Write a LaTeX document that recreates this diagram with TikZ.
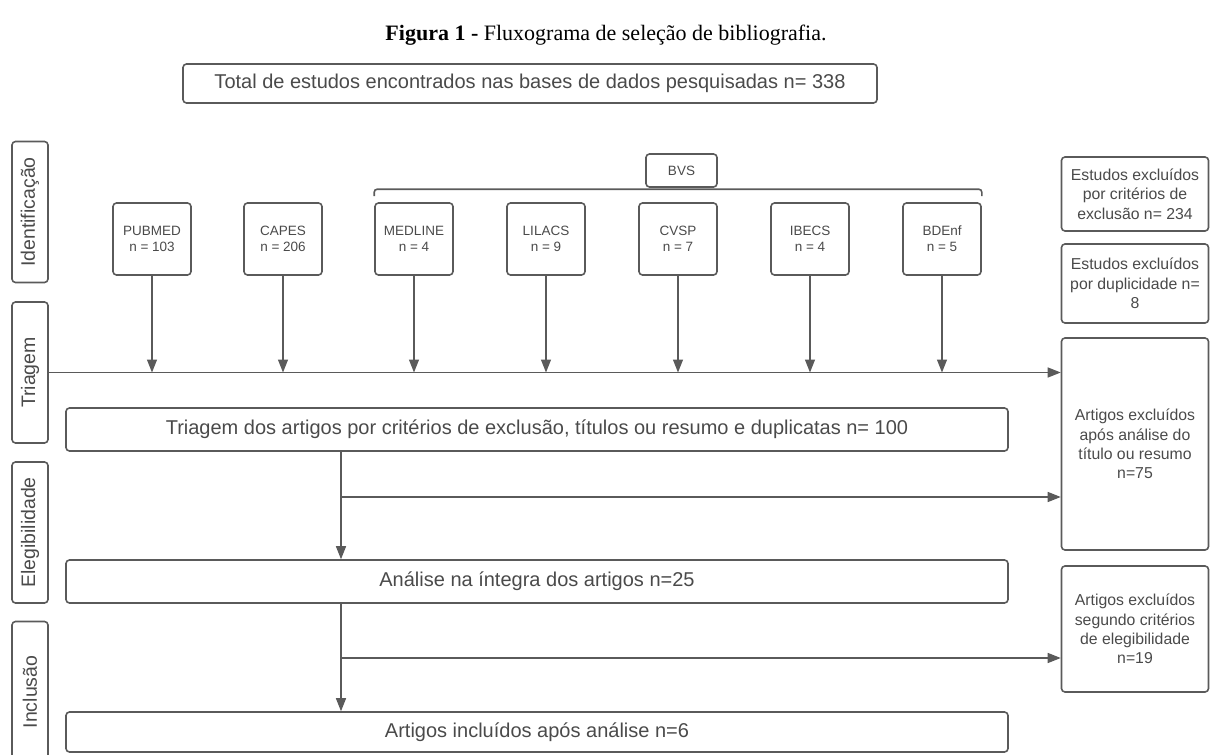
\documentclass[tikz,border=0pt]{standalone}
\usepackage{fontspec}
\setmainfont{Liberation Serif}
\newfontfamily\boxfont{Liberation Sans}
\usetikzlibrary{arrows.meta}
\definecolor{linegray}{HTML}{5A5A5A}
\definecolor{txtgray}{HTML}{4A4A4A}
\tikzset{
  stage/.style={draw=linegray, line width=1.6pt, rounded corners=3.5pt, text=txtgray, align=center, inner sep=2pt},
  source/.style={stage, minimum width=78pt, minimum height=72pt, font=\boxfont\fontsize{13.5}{16}\selectfont},
  lane/.style={stage, rotate=90, minimum width=141pt, minimum height=36pt, font=\boxfont\fontsize{19.5}{20}\selectfont},
  wide/.style={stage, minimum width=942pt, font=\boxfont\fontsize{20}{22}\selectfont},
  excl/.style={stage, minimum width=147pt, font=\boxfont\fontsize{15.8}{19.3}\selectfont},
  flow/.style={draw=linegray, line width=1.3pt, -{Triangle[length=13pt,width=10pt]}},
}
\begin{document}
\begin{tikzpicture}[x=1pt,y=-1pt]
  \useasboundingbox (0,0) rectangle (1211,755);
  \node at (606,35) (title) {\fontsize{22}{24}\selectfont\textbf{Figura 1 -} Fluxograma de seleção de bibliografia.};
  \node[stage, minimum width=694pt, minimum height=39pt, font=\boxfont\fontsize{20}{22}\selectfont] at (530,83.5) (total) {Total de estudos encontrados nas bases de dados pesquisadas n= 338};

  % stages
  \node[lane] at (30,212) (ident) {Identificação};
  \node[lane] at (30,372.5) (triag) {Triagem};
  \node[lane] at (30,532.5) (eleg) {Elegibilidade};
  \node[lane] at (30,692) (incl) {Inclusão};

  % databases
  \node[source] at (152,239) (pubmed) {PUBMED\\n = 103};
  \node[source] at (283,239) (capes) {CAPES\\n = 206};
  \node[source] at (414,239) (medline) {MEDLINE\\n = 4};
  \node[source] at (546,239) (lilacs) {LILACS\\n = 9};
  \node[source] at (678,239) (cvsp) {CVSP\\n = 7};
  \node[source] at (810,239) (ibecs) {IBECS\\n = 4};
  \node[source] at (942,239) (bdenf) {BDEnf\\n = 5};
  \node[stage, minimum width=71pt, minimum height=33pt, font=\boxfont\fontsize{13.5}{16}\selectfont] at (681.5,170.5) (bvs) {BVS};

  % excluded
  \node[excl, minimum height=74pt] at (1135,194) (ex1) {Estudos excluídos\\por critérios de\\exclusão n= 234};
  \node[excl, minimum height=79pt] at (1135,283.5) (ex2) {Estudos excluídos\\por duplicidade n=\\8};
  \node[excl, minimum height=212pt] at (1135,444) (ex3) {Artigos excluídos\\após análise do\\título ou resumo\\n=75};
  \node[excl, minimum height=126pt] at (1135,629) (ex4) {Artigos excluídos\\segundo critérios\\de elegibilidade\\n=19};

  \node[wide, minimum height=43pt] at (537,429.5) (screen) {Triagem dos artigos por critérios de exclusão, títulos ou resumo e duplicatas n= 100};
  \node[wide, minimum height=43pt] at (537,581.5) (fulltext) {Análise na íntegra dos artigos n=25};
  \node[wide, minimum height=40pt] at (537,732) (included) {Artigos incluídos após análise n=6};

  \coordinate (trunk) at (341,0);
  \coordinate (cut1) at (341,497);
  \coordinate (cut2) at (341,658);

  % draw edges
  \draw[draw=linegray, line width=1.6pt, rounded corners=3pt] ([yshift=6pt]medline.north west) -- ++(0,-7) -| ([yshift=6pt]bdenf.north east);
  \foreach \db in {pubmed,capes,medline,lilacs,cvsp,ibecs,bdenf}
    \draw[flow] (\db) -- (\db |- triag.south);
  \draw[flow] (triag.south) -- (triag.south -| ex3.west);
  \draw[flow] (screen.south -| trunk) -- (fulltext.north -| trunk);
  \draw[flow] (cut1) -- (cut1 -| ex3.west);
  \draw[flow] (fulltext.south -| trunk) -- (included.north -| trunk);
  \draw[flow] (cut2) -- (cut2 -| ex4.west);
\end{tikzpicture}
\end{document}
